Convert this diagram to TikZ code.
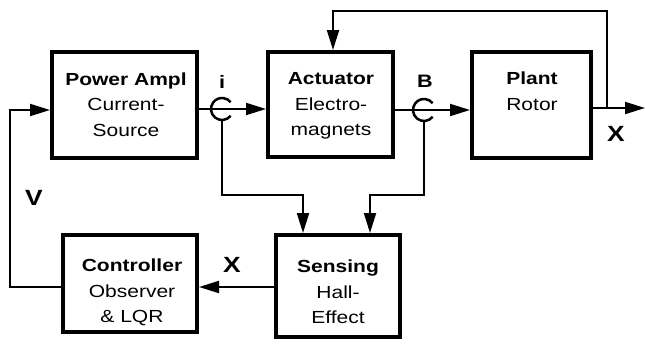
\documentclass[tikz,border=0pt]{standalone}
\usepackage{fontspec}
\setmainfont[FakeStretch=1.2]{Liberation Sans}
\usetikzlibrary{arrows.meta,calc}
\begin{document}
\begin{tikzpicture}[x=1pt,y=-1pt,
  blk/.style={draw, line width=4pt, inner sep=0pt},
  txt/.style={align=center, font=\fontsize{17.5}{25.5}\selectfont, inner sep=0pt},
  conn/.style={line width=2pt, -{Triangle[length=20pt,width=12pt]}},
  wire/.style={line width=2pt},
  lbl/.style={font=\fontsize{22}{26}\selectfont\bfseries, inner sep=0pt},
  slbl/.style={font=\fontsize{18}{22}\selectfont\bfseries, inner sep=0pt},
  sensor/.style={circle, minimum size=22pt, inner sep=0pt},
  cring/.style={line width=2.5pt}]
\useasboundingbox (0,0) rectangle (645,343);

% blocks
\node[blk, minimum width=145pt, minimum height=106pt] (pa) at (124.5,105) {};
\node[blk, minimum width=125pt, minimum height=105pt] (act) at (330.5,104.5) {};
\node[blk, minimum width=119pt, minimum height=106pt] (plant) at (531.5,105) {};
\node[blk, minimum width=134pt, minimum height=97pt] (ctrl) at (130,283.5) {};
\node[blk, minimum width=124pt, minimum height=102pt] (sens) at (338,286) {};

% texts
\node[txt] (pa-t) at (126,104.3) {\textbf{Power Ampl}\\Current-\\Source};
\node[txt] (act-t) at (331,106.1) {\textbf{Actuator}\\Electro-\\magnets};
\node[txt] (plant-t) at (532,91.4) {\textbf{Plant}\\Rotor};
\node[txt] (ctrl-t) at (132,292.6) {\textbf{Controller}\\Observer\\\& LQR};
\node[txt] (sens-t) at (338,292.1) {\textbf{Sensing}\\Hall-\\Effect};

% sensors
\node[sensor] (si) at (222,109) {};
\node[sensor] (sb) at (424,110) {};
\draw[cring] ($(si.center)+(38:11)$) arc[start angle=38, end angle=322, radius=11];
\draw[cring] ($(sb.center)+(38:11)$) arc[start angle=38, end angle=322, radius=11];
\node[slbl] (il) at (222,81.5) {i};
\node[slbl] (bl) at (425,81) {B};

% helper coordinates
\coordinate (out) at (645,108);
\coordinate (tap) at (607,108);
\coordinate (topc) at (333,11);
\coordinate (ij) at (303,195);
\coordinate (bj) at (370,195);
\coordinate (xline) at (0,287);
\coordinate (vc) at (10,287);
\coordinate (vin) at (0,110);

% connectors
\draw[conn] (pa.east |- si) -- (act.west |- si);
\draw[conn] (act.east |- sb) -- (plant.west |- sb);
\draw[conn] (plant.east |- out) -- (out);
\draw[conn] (tap) |- (topc) -- (topc |- act.north);
\draw[conn] (si.south) |- (ij) -- (ij |- sens.north);
\draw[conn] (sb.south) |- (bj) -- (bj |- sens.north);
\draw[conn] (sens.west |- xline) -- (ctrl.east |- xline);
\draw[conn] (ctrl.west |- vc) -- (vc) |- (pa.west |- vin);

% labels
\node[lbl] (xr) at (616,134) {X};
\node[lbl] (xb) at (232,265) {X};
\node[lbl] (vl) at (34,198) {V};
\end{tikzpicture}
\end{document}
